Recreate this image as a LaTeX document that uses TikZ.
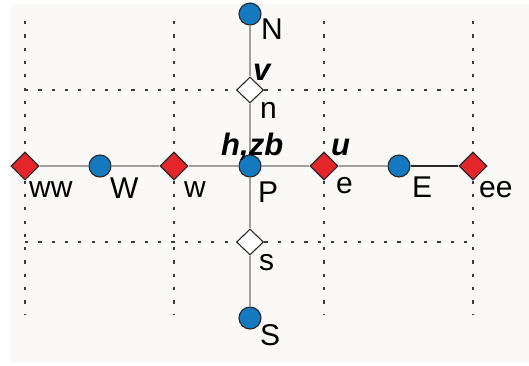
\documentclass[tikz,border=0pt]{standalone}
\usepackage{fontspec}
\setmainfont{Liberation Sans}
\usetikzlibrary{shapes.geometric}
\definecolor{bgc}{RGB}{250,249,248}
\definecolor{bluec}{RGB}{20,121,191}
\definecolor{redc}{RGB}{228,38,43}
\definecolor{edgec}{RGB}{40,40,40}
\definecolor{linec}{RGB}{160,160,160}
\definecolor{dotc}{RGB}{60,60,60}
\tikzset{
  griddot/.style={draw=dotc, line width=2pt, dash pattern=on 3.2pt off 10.1pt},
  conn/.style={draw=linec, line width=1.1pt},
  darkconn/.style={draw=edgec, line width=1.6pt},
  cell/.style={circle, draw=edgec, line width=1.1pt, fill=bluec, minimum size=22pt, inner sep=0pt},
  face/.style={diamond, draw=edgec, line width=1.1pt, fill=redc, minimum width=28pt, minimum height=28pt, inner sep=0pt},
  stag/.style={diamond, draw=edgec, line width=1.1pt, fill=white, minimum width=27pt, minimum height=26pt, inner sep=0pt},
  lab/.style={anchor=base west, inner sep=0pt, font=\fontsize{30}{32}\selectfont},
  var/.style={anchor=base west, inner sep=0pt, font=\fontsize{31}{33}\selectfont\bfseries\itshape}
}
\begin{document}
\begin{tikzpicture}[x=1pt,y=-1pt]
\useasboundingbox (0,0) rectangle (529,365);
\fill[white] (0,0) rectangle (529,365);
\fill[bgc] (10,4) rectangle (529,363);
% dotted grid
\foreach \x in {25,174,324,473} \draw[griddot] (\x,21) -- (\x,314);
\foreach \y in {90,242} \draw[griddot] (25,\y) -- (473,\y);
% nodes
\node[face] (ww) at (25,166) {};
\node[cell] (W) at (100,166) {};
\node[face] (w) at (174,166) {};
\node[cell] (P) at (250,166) {};
\node[face] (e) at (324,166) {};
\node[cell] (E) at (399,166) {};
\node[face] (ee) at (473,166) {};
\node[cell] (N) at (250,14) {};
\node[stag] (n) at (250,90) {};
\node[stag] (s) at (250,242) {};
\node[cell] (S) at (250,318) {};
% connectors
\draw[conn] (ww) -- (W);
\draw[conn] (W) -- (w);
\draw[conn] (w) -- (P);
\draw[conn] (P) -- (e);
\draw[conn] (e) -- (E);
\draw[darkconn] (E) -- (ee);
\draw[conn] (N) -- (n);
\draw[conn] (n) -- (P);
\draw[conn] (P) -- (s);
\draw[conn] (s) -- (S);
% labels
\node[lab] (lN) at (261,39) {N};
\node[lab] (ln) at (260,118) {n};
\node[lab] (lP) at (258,202) {P};
\node[lab] (ls) at (259,270) {s};
\node[lab] (lS) at (260,345) {S};
\node[lab] (lww) at (29,197) {ww};
\node[lab] (lW) at (110,198) {W};
\node[lab] (lw) at (184,197) {w};
\node[lab] (le) at (336,193) {e};
\node[lab] (lE) at (412,197) {E};
\node[lab] (lee) at (479,197) {ee};
\node[var] (lv) at (253,80) {v};
\node[var] (lh) at (221,155) {h,zb};
\node[var] (lu) at (331,155) {u};
\end{tikzpicture}
\end{document}
